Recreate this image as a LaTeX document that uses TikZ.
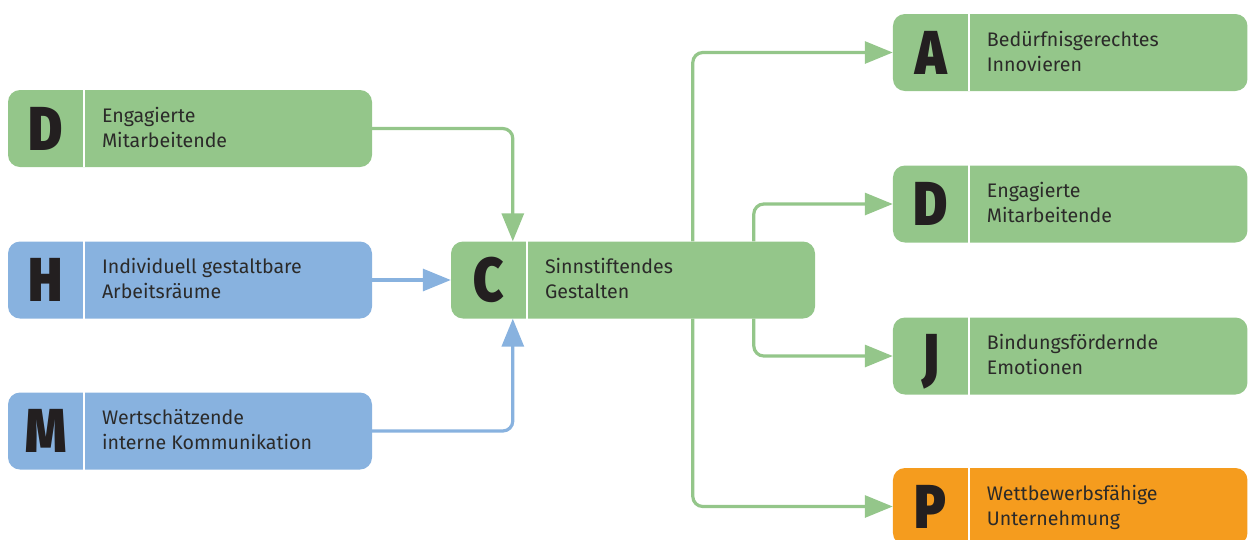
\documentclass[tikz,border=0pt]{standalone}
\usepackage{fontspec}
\setmainfont{Fira Sans}
\newfontfamily\letterfont{Fira Sans}[UprightFont={* Black}]
\usetikzlibrary{arrows.meta,calc}
\definecolor{boxgreen}{HTML}{94C68A}
\definecolor{boxblue}{HTML}{88B2DF}
\definecolor{boxorange}{HTML}{F59C1E}
\definecolor{lettercol}{HTML}{231F20}
\definecolor{textcol}{HTML}{2B2A29}
\newcommand\mkcard[6]{%
  % #1 name, #2 style, #3 center, #4 width, #5 letter, #6 text
  \node[#2, minimum width=#4] (#1) at #3 {};
  \node[letterstyle] (#1l) at ($(#1.west)+(38,21.5)$) {\scalebox{0.84}[1]{#5}};
  \node[labelstyle] (#1t) at ($(#1.west)+(94,18.6)$) {#6};
  \draw[divider] ($(#1.north west)+(76.5,0)$) -- ($(#1.south west)+(76.5,0)$);
}
\begin{document}
\begin{tikzpicture}[x=1pt,y=-1pt,
  card/.style={rounded corners=12pt, minimum height=77pt, inner sep=0pt, draw=none},
  gcard/.style={card, fill=boxgreen},
  bcard/.style={card, fill=boxblue},
  ocard/.style={card, fill=boxorange},
  letterstyle/.style={font=\fontsize{62}{62}\letterfont, text=lettercol, inner sep=0pt, anchor=base},
  labelstyle/.style={font=\fontsize{19.6}{25}\selectfont, text=textcol, align=left, inner sep=0pt, anchor=base west},
  divider/.style={draw=white, line width=2pt},
  conn/.style={line width=3.2pt, rounded corners=10pt, -{Triangle[length=28pt,width=22pt]}},
  gconn/.style={conn, draw=boxgreen},
  bconn/.style={conn, draw=boxblue},
]
\useasboundingbox (0,0) rectangle (1248,539);
\mkcard{D1}{gcard}{(190,128.5)}{364pt}{D}{Engagierte\\Mitarbeitende}
\mkcard{H}{bcard}{(190,280)}{364pt}{H}{Individuell gestaltbare\\Arbeitsräume}
\mkcard{M}{bcard}{(190,431)}{364pt}{M}{Wertschätzende\\interne Kommunikation}
\mkcard{C}{gcard}{(633,280)}{364pt}{C}{Sinnstiftendes\\Gestalten}
\mkcard{A}{gcard}{(1070.2,52.5)}{354.5pt}{A}{Bedürfnisgerechtes\\Innovieren}
\mkcard{D2}{gcard}{(1070.2,204)}{354.5pt}{D}{Engagierte\\Mitarbeitende}
\mkcard{J}{gcard}{(1070.2,356)}{354.5pt}{J}{Bindungsfördernde\\Emotionen}
\mkcard{P}{ocard}{(1070.2,506.5)}{354.5pt}{P}{Wettbewerbsfähige\\Unternehmung}

\draw[gconn] (D1.east) -| ($(C.north west)+(62,0)$);
\draw[bconn] (H.east) -- (C.west);
\draw[bconn] (M.east) -| ($(C.south west)+(62,0)$);
\draw[gconn] ($(C.north west)+(242,0)$) |- (A.west);
\draw[gconn] ($(C.north west)+(303,0)$) |- (D2.west);
\draw[gconn] ($(C.south west)+(303,0)$) |- (J.west);
\draw[gconn] ($(C.south west)+(242,0)$) |- (P.west);
\end{tikzpicture}
\end{document}
